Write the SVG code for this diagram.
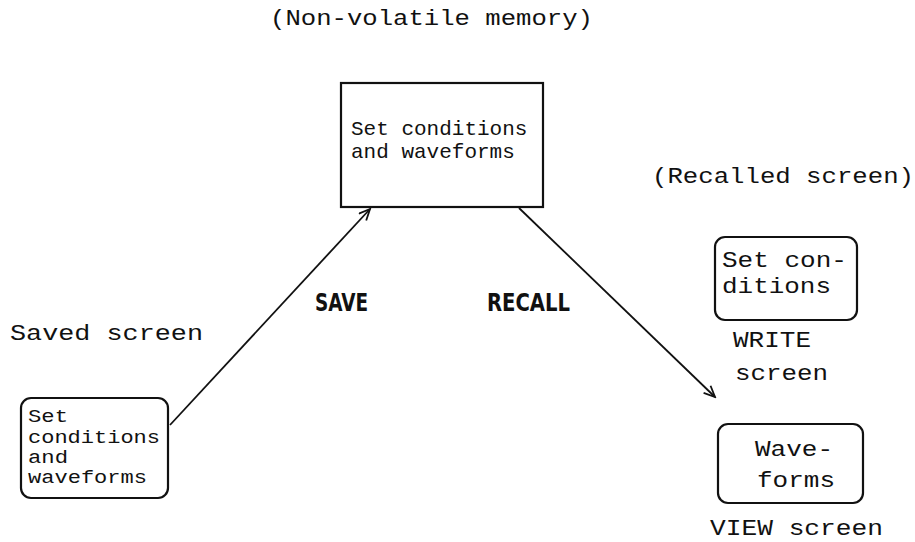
<svg xmlns="http://www.w3.org/2000/svg" width="915" height="542" viewBox="0 0 915 542">
<style>
.t{font-family:"Liberation Mono","DejaVu Sans Mono",monospace;font-size:22px;fill:#111}
.s{font-size:21px}
.m{font-size:18px}
.b{font-family:"Liberation Sans Narrow","DejaVu Sans Condensed","Liberation Sans",sans-serif;font-weight:bold;font-size:24px;fill:#111}
.box{fill:#fff;stroke:#111;stroke-width:2.2}
.con{stroke:#111;stroke-width:1.8;fill:none}
</style>
<defs>
<marker id="ah" markerUnits="userSpaceOnUse" markerWidth="14" markerHeight="14" refX="12" refY="6" orient="auto">
<path d="M1,1 L12,6 L1,11" fill="none" stroke="#111" stroke-width="1.8"/>
</marker>
</defs>
<rect width="915" height="542" fill="#fff"/>

<text class="t" x="270" y="25" textLength="323" lengthAdjust="spacingAndGlyphs">(Non-volatile memory)</text>
<text class="t" x="652" y="183" textLength="262" lengthAdjust="spacingAndGlyphs">(Recalled screen)</text>
<text class="t" x="10" y="340" textLength="193" lengthAdjust="spacingAndGlyphs">Saved screen</text>

<g id="connectors">
<line class="con" x1="170" y1="425" x2="370" y2="209" marker-end="url(#ah)"/>
<line class="con" x1="519" y1="208" x2="715" y2="397" marker-end="url(#ah)"/>
<text class="b" x="315" y="311" textLength="53" lengthAdjust="spacingAndGlyphs">SAVE</text>
<text class="b" x="487" y="311" textLength="83" lengthAdjust="spacingAndGlyphs">RECALL</text>
</g>

<g id="memory">
<rect class="box" x="341" y="83" width="202" height="124" stroke-width="2.8"/>
<text class="t s" x="351" y="135">Set conditions</text>
<text class="t s" x="351" y="158">and waveforms</text>
</g>

<g id="saved">
<rect class="box" x="21" y="398" width="147" height="100" rx="10"/>
<text class="t m" x="28" y="422" textLength="40" lengthAdjust="spacingAndGlyphs">Set</text>
<text class="t m" x="28" y="443" textLength="132" lengthAdjust="spacingAndGlyphs">conditions</text>
<text class="t m" x="28" y="463" textLength="40" lengthAdjust="spacingAndGlyphs">and</text>
<text class="t m" x="28" y="483" textLength="119" lengthAdjust="spacingAndGlyphs">waveforms</text>
</g>

<g id="write">
<rect class="box" x="715" y="237" width="142" height="83" rx="10"/>
<text class="t" x="722" y="267" textLength="125" lengthAdjust="spacingAndGlyphs">Set con-</text>
<text class="t" x="722" y="293" textLength="109" lengthAdjust="spacingAndGlyphs">ditions</text>
<text class="t" x="733" y="347" textLength="78" lengthAdjust="spacingAndGlyphs">WRITE</text>
<text class="t" x="735" y="380" textLength="93" lengthAdjust="spacingAndGlyphs">screen</text>
</g>

<g id="view">
<rect class="box" x="718" y="424" width="145" height="79" rx="10"/>
<text class="t" x="755" y="456" textLength="78" lengthAdjust="spacingAndGlyphs">Wave-</text>
<text class="t" x="757" y="487" textLength="78" lengthAdjust="spacingAndGlyphs">forms</text>
<text class="t" x="710" y="535" textLength="173" lengthAdjust="spacingAndGlyphs">VIEW screen</text>
</g>
</svg>
